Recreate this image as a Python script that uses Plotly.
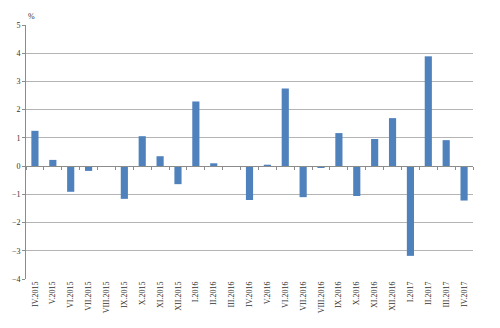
import plotly.graph_objects as go

categories = ["IV.2015", "V.2015", "VI.2015", "VII.2015", "VIII.2015", "IX.2015", "X.2015",
              "XI.2015", "XII.2015", "I.2016", "II.2016", "III.2016", "IV.2016", "V.2016",
              "VI.2016", "VII.2016", "VIII.2016", "IX.2016", "X.2016", "XI.2016", "XII.2016",
              "I.2017", "II.2017", "III.2017", "IV.2017"]
values = [1.25, 0.22, -0.91, -0.17, 0.0, -1.16, 1.06, 0.35, -0.64, 2.29, 0.1, 0.0, -1.2, 0.05,
          2.75, -1.1, -0.04, 1.17, -1.06, 0.96, 1.70, -3.18, 3.89, 0.92, -1.22]
y_min, y_max = -4, 5

fig = go.Figure()
fig.add_trace(go.Bar(x=categories, y=values, marker=dict(color="#4F81BD", line=dict(width=0)),
                     xaxis="x", yaxis="y"))
fig.add_trace(go.Scatter(x=categories, y=[0] * len(categories), mode="none", xaxis="x2",
                         yaxis="y", showlegend=False, hoverinfo="skip"))

font = dict(family="Liberation Serif", size=8, color="#333333")
fig.update_layout(
    width=500, height=328,
    margin=dict(l=26, r=27, t=25, b=49),
    paper_bgcolor="white", plot_bgcolor="white",
    showlegend=False, bargap=0.6,
    font=font,
    xaxis=dict(type="category", tickangle=-90, showline=False, ticks="", showgrid=False,
               tickfont=font, zeroline=False),
    xaxis2=dict(type="category", overlaying="x", matches="x", anchor="free",
                position=(0 - y_min) / (y_max - y_min), side="bottom",
                showline=True, linecolor="#8c8c8c", linewidth=1, ticks="outside",
                tickson="boundaries", ticklen=3, tickcolor="#8c8c8c",
                showticklabels=False, showgrid=False),
    yaxis=dict(range=[y_min, y_max], dtick=1, showgrid=True, gridcolor="#b4b4b4",
               gridwidth=1, showline=True, linecolor="#8c8c8c", ticks="outside", ticklen=3,
               tickcolor="#8c8c8c", zeroline=False, tickfont=font),
    annotations=[dict(text="%", x=0, y=1, xref="paper", yref="paper", xanchor="left",
                      yanchor="bottom", showarrow=False, font=font, yshift=2)],
)

fig.write_html("out.html")
